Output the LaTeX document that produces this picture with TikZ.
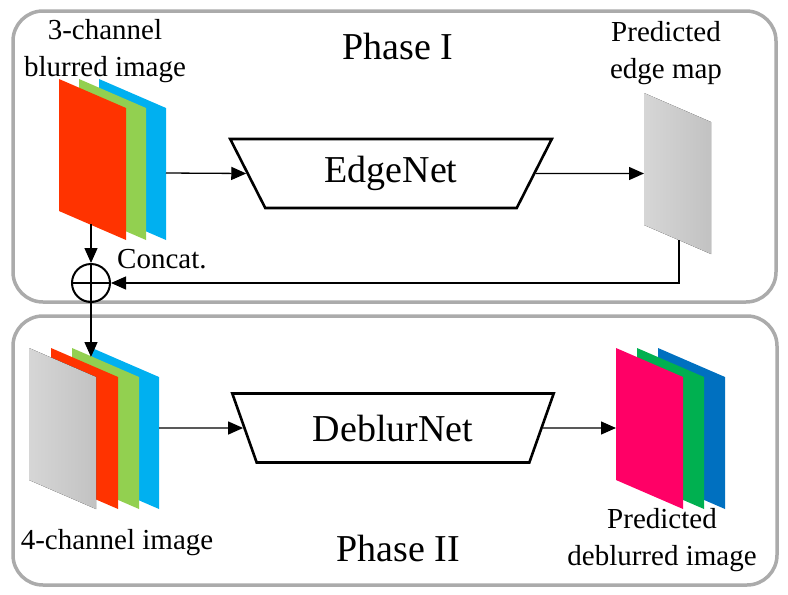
\documentclass[tikz,border=0pt]{standalone}
\usepackage{fontspec}
\setmainfont{Liberation Serif}
\usetikzlibrary{arrows.meta, positioning, calc, shapes.geometric}

\definecolor{boxgray}{HTML}{ABABAB}
\definecolor{inred}{HTML}{FF3300}
\definecolor{ingreen}{HTML}{92D050}
\definecolor{inblue}{HTML}{00B0F0}
\definecolor{outpink}{HTML}{FF0066}
\definecolor{outgreen}{HTML}{00B050}
\definecolor{outblue}{HTML}{0070C0}
\definecolor{edgelight}{HTML}{D6D6D6}
\definecolor{edgedark}{HTML}{C2C2C2}

% one image plane: left x, top y, fill options
\newcommand{\plane}[3]{\fill[#3] (#1,#2) -- ++(67,29) -- ++(0,132) -- ++(-67,-29) -- cycle;}

\tikzset{
  phasebox/.style={draw=boxgray, line width=3.5pt, rounded corners=30pt},
  netbox/.style={draw, line width=2.6pt, trapezium, shape border rotate=180,
    trapezium stretches=true, minimum width=322pt, minimum height=69pt,
    trapezium angle=61.8, inner sep=0pt, font=\fontsize{38}{44}\selectfont},
  lbl/.style={font=\fontsize{29}{37}\selectfont, align=center, inner sep=0pt},
  title/.style={font=\fontsize{38}{44}\selectfont, inner sep=0pt},
  flow/.style={line width=1.3pt, -{Triangle[length=15pt,width=13pt]}},
}

\begin{document}
\begin{tikzpicture}[x=1pt, y=-1pt]
    \useasboundingbox (0,0) rectangle (788,595);

    % phase frames
    \draw[phasebox] (13,11) rectangle (776,302);
    \draw[phasebox] (13,316) rectangle (777,585);
    \node[title] (phaseone) at (398,46) {Phase I};
    \node[title] (phasetwo) at (398,548) {Phase II};

    % 3-channel blurred image
    \plane{99}{79}{inblue}
    \plane{79}{79}{ingreen}
    \plane{59}{79}{inred}
    \node[lbl] (rgblbl) at (105,51) {3-channel\\blurred image};
    \coordinate (rgbout) at (166,173);
    \coordinate (rgbdown) at (91,224);

    % EdgeNet
    \node[netbox] (edgenet) at (391,173.5) {EdgeNet};

    % predicted edge map
    \plane{644}{93}{left color=edgelight, right color=edgedark}
    \node[lbl] (edgelbl) at (666,53) {Predicted\\edge map};
    \coordinate (edgein) at (644,173.5);
    \coordinate (edgeout) at (679,240);

    % concatenation
    \node[circle, draw, line width=2pt, minimum size=38pt, inner sep=0pt] (cat) at (91,283) {};
    \draw[line width=2pt] (cat.north) -- (cat.south) (cat.west) -- (cat.east);
    \node[lbl, anchor=west] (catlbl) at (117,259) {Concat.};

    % 4-channel image
    \plane{92}{348}{inblue}
    \plane{72}{348}{ingreen}
    \plane{51}{348}{inred}
    \plane{29}{348}{left color=edgelight, right color=edgedark}
    \node[lbl] (fourlbl) at (117,543) {4-channel image};
    \coordinate (fourin) at (91,357);
    \coordinate (fourout) at (159,428);

    % DeblurNet
    \node[netbox] (deblurnet) at (393,428) {DeblurNet};

    % predicted deblurred image
    \plane{658}{348}{outblue}
    \plane{637}{348}{outgreen}
    \plane{616}{348}{outpink}
    \node[lbl] (predlbl) at (662,540) {Predicted\\deblurred image};
    \coordinate (predin) at (616,428);

    % connectors
    \draw[flow] (rgbout) -- (edgenet.west);
    \draw[flow] (edgenet.east) -- (edgein);
    \draw[flow] (edgeout) |- (cat.east);
    \draw[flow] (rgbdown) -- (cat.north);
    \draw[flow] (cat.south) -- (fourin);
    \draw[flow] (fourout) -- (deblurnet.west);
    \draw[flow] (deblurnet.east) -- (predin);
\end{tikzpicture}
\end{document}
